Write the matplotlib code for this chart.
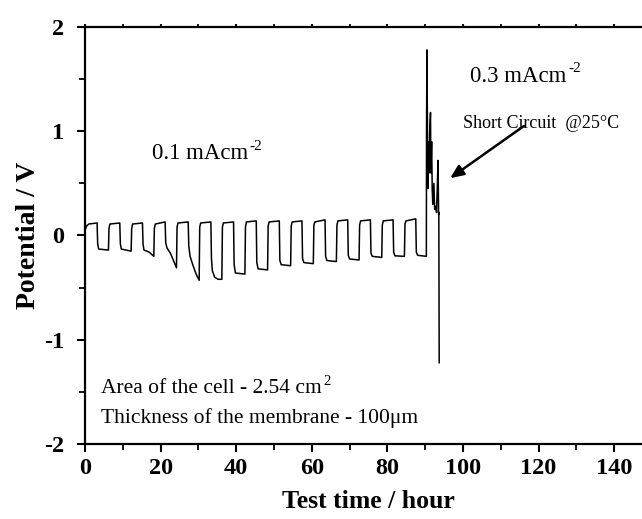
import matplotlib
matplotlib.use("Agg")
import matplotlib.pyplot as plt
from matplotlib.ticker import MultipleLocator

# ---- data ----
t_hours = [
    0.0, 0.4, 1.0, 3.2,
    3.35, 3.6, 6.2, 6.35, 6.6, 9.2,
    9.35, 9.6, 12.2, 12.35, 12.6, 15.2,
    15.35, 15.6, 17.0, 18.2, 18.35, 18.6, 21.2,
    21.35, 21.7, 22.6, 23.4, 24.2, 24.35, 24.6, 27.3,
    27.45, 27.8, 28.6, 29.4, 30.2, 30.35, 30.6, 33.3,
    33.45, 33.7, 34.3, 35.2, 36.2, 36.35, 36.6, 39.3,
    39.45, 39.8, 42.3, 42.45, 42.7, 45.3,
    45.45, 45.8, 48.3, 48.45, 48.7, 51.4,
    51.55, 51.9, 54.4, 54.55, 54.8, 57.4,
    57.55, 57.9, 60.4, 60.55, 60.8, 63.5,
    63.65, 64.0, 66.5, 66.65, 66.9, 69.5,
    69.65, 70.0, 72.5, 72.65, 72.9, 75.5,
    75.65, 76.0, 78.5, 78.65, 78.9, 81.5,
    81.65, 82.0, 84.5, 84.65, 84.9, 87.5,
    87.65, 88.0, 90.3,
    90.35, 90.45, 90.6, 90.7, 90.8, 91.0, 91.2, 91.4, 91.5, 91.7,
    91.85, 92.0, 92.3, 92.5, 92.8, 93.0, 93.4, 93.5, 93.55, 93.6, 93.7,
]
potential_V = [
    0.05, 0.09, 0.11, 0.12,
    -0.08, -0.13, -0.14, 0.07, 0.11, 0.12,
    -0.08, -0.13, -0.15, 0.07, 0.11, 0.12,
    -0.08, -0.14, -0.16, -0.20, 0.07, 0.11, 0.13,
    -0.07, -0.12, -0.17, -0.24, -0.31, 0.08, 0.12, 0.13,
    -0.10, -0.20, -0.29, -0.37, -0.43, 0.08, 0.12, 0.13,
    -0.22, -0.34, -0.40, -0.42, -0.42, 0.08, 0.12, 0.13,
    -0.28, -0.36, -0.37, 0.08, 0.13, 0.14,
    -0.26, -0.32, -0.33, 0.09, 0.13, 0.14,
    -0.24, -0.28, -0.29, 0.09, 0.13, 0.14,
    -0.22, -0.26, -0.27, 0.10, 0.13, 0.15,
    -0.20, -0.24, -0.25, 0.10, 0.14, 0.15,
    -0.19, -0.225, -0.235, 0.10, 0.14, 0.15,
    -0.17, -0.20, -0.21, 0.10, 0.14, 0.15,
    -0.16, -0.195, -0.20, 0.11, 0.14, 0.16,
    -0.16, -0.19, -0.20,
    1.00, 1.78, 1.00, 0.45, 0.90, 0.60, 1.00, 1.18, 0.60, 0.90,
    0.45, 0.30, 0.50, 0.25, 0.28, 0.22, 0.72, 0.35, 0.20, 0.22, -1.22,
]

x_ticks = [0, 20, 40, 60, 80, 100, 120, 140]
y_ticks = [-2, -1, 0, 1, 2]

# ---- style ----
plt.rcParams['font.family'] = ['Liberation Serif', 'DejaVu Serif']
plt.rcParams['axes.unicode_minus'] = False

fig = plt.figure(figsize=(6.42, 5.19), dpi=100)
ax = fig.add_axes([0.1324, 0.1445, 0.8832, 0.8035])

ax.plot(t_hours, potential_V, color='black', lw=1.1)

ax.set_xlim(0, 150)
ax.set_ylim(-2, 2)
ax.set_xticks(x_ticks)
ax.set_yticks(y_ticks)
ax.xaxis.set_minor_locator(MultipleLocator(10))
ax.yaxis.set_minor_locator(MultipleLocator(0.5))

for s in ax.spines.values():
    s.set_linewidth(1.6)
ax.spines['right'].set_visible(False)

ax.tick_params(axis='both', which='major', direction='out', length=6, width=1.5,
               labelsize=17.5)
ax.tick_params(axis='both', which='minor', direction='out', length=4, width=1.3)
ax.tick_params(axis='y', which='major', pad=9)
ax.tick_params(axis='x', which='major', pad=4)
ax.tick_params(axis='x', which='both', top=True, labeltop=False)
for lab in ax.get_xticklabels() + ax.get_yticklabels():
    lab.set_fontweight('bold')
for tk in ax.xaxis.get_major_ticks() + ax.xaxis.get_minor_ticks():
    tk.tick2line.set_markersize(2)

ax.set_xlabel('Test time / hour', fontsize=18.5, fontweight='bold', labelpad=8)
ax.set_ylabel('Potential / V', fontsize=20, fontweight='bold', labelpad=2)


def with_sup(x, y, main, sup, size, sup_size=11):
    t = ax.text(x, y, main, fontsize=size, ha='left', va='baseline')
    ax.annotate(sup, xy=(1, 1), xycoords=t, xytext=(1, -4.5),
                textcoords='offset points', fontsize=sup_size,
                ha='left', va='baseline')
    return t


with_sup(17.7, 0.73, '0.1 mAcm', '-2', 16.5)
with_sup(101.9, 1.47, '0.3 mAcm', '-2', 16.5)
ax.text(100.0, 1.03, 'Short Circuit  @25°C', fontsize=13, ha='left', va='baseline')
ax.annotate('', xy=(96.6, 0.55), xytext=(116.1, 1.05),
            arrowprops=dict(arrowstyle='-|>,head_length=0.8,head_width=0.35',
                            color='black', lw=1.8, shrinkA=0, shrinkB=0))
with_sup(4.2, -1.51, 'Area of the cell - 2.54 cm', '2', 15.5, 10.5)
ax.text(4.2, -1.80, 'Thickness of the membrane - 100μm', fontsize=15.5,
        ha='left', va='baseline')

fig.savefig('out.png', dpi=100)
